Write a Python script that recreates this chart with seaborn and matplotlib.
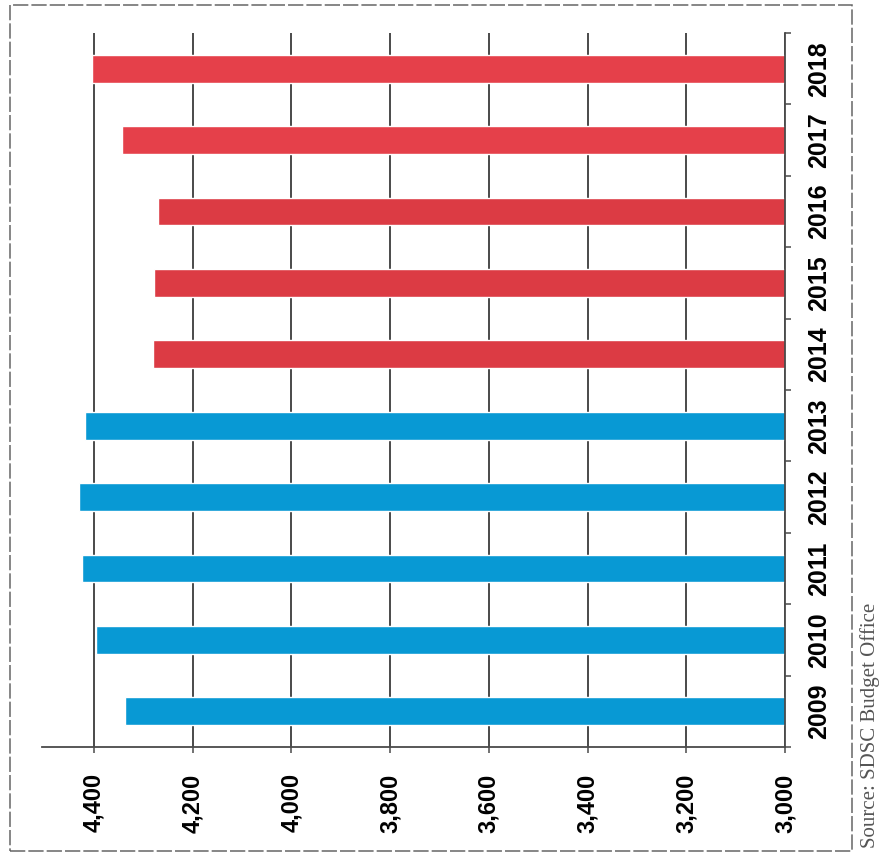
import matplotlib
matplotlib.use("Agg")
import matplotlib.pyplot as plt
import seaborn as sns
import pandas as pd
from matplotlib.ticker import FixedLocator, FuncFormatter
from matplotlib.patches import Rectangle

# Annual values by year
years = [2009, 2010, 2011, 2012, 2013, 2014, 2015, 2016, 2017, 2018]
values = [4337, 4395, 4424, 4431, 4418, 4281, 4279, 4269, 4342, 4403]
bar_colors = ["#0899D4", "#0899D4", "#0899D4", "#0899D4", "#0899D4",
              "#DC3B44", "#DC3B44", "#DC3B44", "#E5404A", "#E5404A"]
value_ticks = [3000, 3200, 3400, 3600, 3800, 4000, 4200, 4400]
source_note = "Source: SDSC Budget Office"

sns.set_theme(style="white")
plt.rcParams["font.family"] = ["Liberation Sans", "DejaVu Sans"]

fig = plt.figure(figsize=(8.82, 8.58), dpi=100)
ax = fig.add_axes([0.0476, 0.1294, 0.8424, 0.8321])

df = pd.DataFrame({"year": [str(y) for y in years], "value": values})
order = [str(y) for y in reversed(years)]
palette = dict(zip(df["year"], bar_colors))

sns.barplot(data=df, x="value", y="year", hue="year", order=order,
            hue_order=order, palette=palette, legend=False, width=0.39,
            saturation=1, orient="h", ax=ax)

# value axis runs right-to-left, starting at 3,000
ax.set_xlim(4505, 3000)
ax.set_ylim(9.5, -0.5)
ax.set_xticks(value_ticks)
ax.xaxis.set_major_formatter(FuncFormatter(lambda v, p: f"{int(v):,}"))
ax.grid(axis="x", color="#4a4a4a", lw=1.4)
ax.grid(axis="y", visible=False)
ax.set_axisbelow(True)
ax.set_xlabel("")
ax.set_ylabel("")

ax.tick_params(axis="x", which="major", bottom=True, length=4, width=1.1,
               color="#4a4a4a", pad=15, labelsize=17, labelrotation=90,
               labelcolor="black")
for lbl in ax.get_xticklabels():
    lbl.set_fontweight("bold")

# category axis on the right
ax.yaxis.tick_right()
ax.yaxis.set_label_position("right")
ax.tick_params(axis="y", which="major", length=0, pad=16, labelsize=18,
               labelrotation=90, labelcolor="black")
ax.yaxis.set_minor_locator(FixedLocator([i - 0.5 for i in range(len(years) + 1)]))
ax.tick_params(axis="y", which="minor", right=True, left=False, length=4,
               width=1.1, color="#4a4a4a")
for lbl in ax.get_yticklabels():
    lbl.set_fontweight("bold")
    lbl.set_va("center")
    lbl.set_ha("left")

for side in ("top", "left"):
    ax.spines[side].set_visible(False)
for side in ("right", "bottom"):
    ax.spines[side].set_color("#4a4a4a")
    ax.spines[side].set_linewidth(1.3)

# outer frame and source note
fig.add_artist(Rectangle((0.0113, 0.008), 0.9546, 0.986, transform=fig.transFigure,
                         fill=False, ec="#666666", lw=1.1, ls=(0, (10, 2))))
fig.text(0.986, 0.155, source_note, rotation=90, ha="center", va="center",
         family=["Liberation Serif", "DejaVu Serif"], size=15, color="#555555")

fig.savefig("out.png", dpi=100)
